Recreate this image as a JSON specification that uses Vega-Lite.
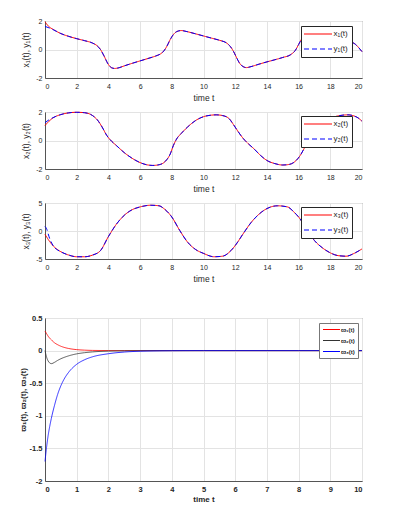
{
  "$schema": "https://vega.github.io/schema/vega-lite/v6.json",
  "padding": {"left": 18, "top": 16, "right": 0, "bottom": 0},
  "background": "white",
  "config": {
    "font": "Liberation Sans",
    "view": {"stroke": "#707070", "strokeWidth": 1},
    "axis": {"grid": true, "gridColor": "#e3e3e3", "ticks": false, "domainColor": "#555555", "labelColor": "#262626", "titleColor": "#262626", "labelFontSize": 7, "titleFontSize": 8.5, "titleFontWeight": "normal", "labelFont": "Liberation Sans", "titleFont": "Liberation Sans"}
  },
  "datasets": {
    "p1": [
      {"t":0,"x":1.95,"y":1.62},{"t":0.25,"x":1.6,"y":1.52},{"t":0.5,"x":1.42,"y":1.4},{"t":1,"x":1.12,"y":1.12},
      {"t":1.5,"x":0.92,"y":0.92},{"t":2,"x":0.76,"y":0.76},{"t":2.5,"x":0.62,"y":0.62},{"t":3,"x":0.45,"y":0.45},
      {"t":3.3,"x":0.25,"y":0.25},{"t":3.5,"x":0.0,"y":0.0},{"t":3.7,"x":-0.4,"y":-0.4},{"t":4,"x":-1.05,"y":-1.05},
      {"t":4.2,"x":-1.28,"y":-1.28},{"t":4.4,"x":-1.33,"y":-1.33},{"t":4.6,"x":-1.3,"y":-1.3},{"t":5,"x":-1.15,"y":-1.15},
      {"t":5.5,"x":-0.97,"y":-0.97},{"t":6,"x":-0.8,"y":-0.8},{"t":6.5,"x":-0.63,"y":-0.63},{"t":7,"x":-0.45,"y":-0.45},
      {"t":7.3,"x":-0.3,"y":-0.3},{"t":7.5,"x":-0.1,"y":-0.1},{"t":7.7,"x":0.25,"y":0.25},{"t":7.9,"x":0.7,"y":0.7},
      {"t":8.1,"x":1.05,"y":1.05},{"t":8.3,"x":1.25,"y":1.25},{"t":8.6,"x":1.33,"y":1.33},{"t":8.9,"x":1.27,"y":1.27},
      {"t":9.5,"x":1.1,"y":1.1},{"t":10,"x":0.95,"y":0.95},{"t":10.5,"x":0.8,"y":0.8},{"t":11,"x":0.65,"y":0.65},
      {"t":11.5,"x":0.42,"y":0.42},{"t":11.7,"x":0.2,"y":0.2},{"t":11.9,"x":-0.15,"y":-0.15},{"t":12.1,"x":-0.6,"y":-0.6},
      {"t":12.3,"x":-1.0,"y":-1.0},{"t":12.5,"x":-1.2,"y":-1.2},{"t":12.7,"x":-1.27,"y":-1.27},{"t":13,"x":-1.2,"y":-1.2},
      {"t":13.5,"x":-1.03,"y":-1.03},{"t":14,"x":-0.87,"y":-0.87},{"t":14.5,"x":-0.72,"y":-0.72},{"t":15,"x":-0.56,"y":-0.56},
      {"t":15.5,"x":-0.36,"y":-0.36},{"t":15.8,"x":-0.05,"y":-0.05},{"t":16,"x":0.35,"y":0.35},{"t":16.2,"x":0.75,"y":0.75},
      {"t":16.4,"x":1.05,"y":1.05},{"t":16.6,"x":1.25,"y":1.25},{"t":16.9,"x":1.33,"y":1.33},{"t":17.2,"x":1.27,"y":1.27},
      {"t":17.8,"x":1.1,"y":1.1},{"t":18.3,"x":0.95,"y":0.95},{"t":18.8,"x":0.8,"y":0.8},{"t":19.3,"x":0.55,"y":0.55},
      {"t":19.6,"x":0.35,"y":0.35},{"t":19.8,"x":0.12,"y":0.12},{"t":20,"x":-0.15,"y":-0.15}
    ],
    "p2": [
      {"t":0,"x":1.05,"y":1.25},{"t":0.25,"x":1.35,"y":1.45},{"t":0.5,"x":1.58,"y":1.6},{"t":1,"x":1.82,"y":1.82},
      {"t":1.5,"x":1.94,"y":1.94},{"t":2,"x":1.98,"y":1.98},{"t":2.5,"x":1.95,"y":1.95},{"t":3,"x":1.75,"y":1.75},
      {"t":3.3,"x":1.45,"y":1.45},{"t":3.6,"x":0.95,"y":0.95},{"t":3.9,"x":0.35,"y":0.35},{"t":4.2,"x":-0.05,"y":-0.05},
      {"t":4.5,"x":-0.35,"y":-0.35},{"t":5,"x":-0.85,"y":-0.85},{"t":5.5,"x":-1.25,"y":-1.25},{"t":6,"x":-1.55,"y":-1.55},
      {"t":6.5,"x":-1.72,"y":-1.72},{"t":6.8,"x":-1.75,"y":-1.75},{"t":7.2,"x":-1.7,"y":-1.7},{"t":7.6,"x":-1.45,"y":-1.45},
      {"t":7.9,"x":-0.95,"y":-0.95},{"t":8.1,"x":-0.35,"y":-0.35},{"t":8.3,"x":0.1,"y":0.1},{"t":8.6,"x":0.5,"y":0.5},
      {"t":9,"x":0.95,"y":0.95},{"t":9.5,"x":1.4,"y":1.4},{"t":10,"x":1.67,"y":1.67},{"t":10.5,"x":1.78,"y":1.78},
      {"t":10.8,"x":1.8,"y":1.8},{"t":11.2,"x":1.75,"y":1.75},{"t":11.6,"x":1.55,"y":1.55},{"t":11.9,"x":1.1,"y":1.1},
      {"t":12.2,"x":0.6,"y":0.6},{"t":12.5,"x":0.15,"y":0.15},{"t":12.8,"x":-0.2,"y":-0.2},{"t":13.2,"x":-0.6,"y":-0.6},
      {"t":13.6,"x":-1.05,"y":-1.05},{"t":14,"x":-1.4,"y":-1.4},{"t":14.5,"x":-1.62,"y":-1.62},{"t":15,"x":-1.72,"y":-1.72},
      {"t":15.4,"x":-1.68,"y":-1.68},{"t":15.8,"x":-1.45,"y":-1.45},{"t":16.1,"x":-1.05,"y":-1.05},{"t":16.4,"x":-0.45,"y":-0.45},
      {"t":16.6,"x":0.0,"y":0.0},{"t":16.9,"x":0.45,"y":0.45},{"t":17.3,"x":0.95,"y":0.95},{"t":17.8,"x":1.4,"y":1.4},
      {"t":18.3,"x":1.67,"y":1.67},{"t":18.8,"x":1.78,"y":1.78},{"t":19.1,"x":1.8,"y":1.8},{"t":19.5,"x":1.72,"y":1.72},
      {"t":19.8,"x":1.55,"y":1.55},{"t":20,"x":1.35,"y":1.35}
    ],
    "p3": [
      {"t":0,"x":-0.6,"y":0.8},{"t":0.1,"x":-1.05,"y":0.4},{"t":0.2,"x":-1.5,"y":-0.5},{"t":0.3,"x":-1.9,"y":-1.4},
      {"t":0.45,"x":-2.45,"y":-2.3},{"t":0.6,"x":-2.9,"y":-2.95},{"t":0.8,"x":-3.35,"y":-3.4},{"t":1,"x":-3.7,"y":-3.72},
      {"t":1.5,"x":-4.3,"y":-4.3},{"t":2,"x":-4.6,"y":-4.6},{"t":2.5,"x":-4.6,"y":-4.6},{"t":3,"x":-4.3,"y":-4.3},
      {"t":3.5,"x":-3.5,"y":-3.5},{"t":4,"x":-1.0,"y":-1.0},{"t":4.5,"x":1.2,"y":1.2},{"t":5,"x":2.8,"y":2.8},
      {"t":5.5,"x":3.8,"y":3.8},{"t":6,"x":4.3,"y":4.3},{"t":6.67,"x":4.6,"y":4.6},{"t":7.2,"x":4.5,"y":4.5},
      {"t":7.5,"x":4.0,"y":4.0},{"t":8,"x":2.5,"y":2.5},{"t":8.5,"x":0.1,"y":0.1},{"t":9,"x":-2.0,"y":-2.0},
      {"t":9.5,"x":-3.3,"y":-3.3},{"t":10,"x":-4.0,"y":-4.0},{"t":10.67,"x":-4.6,"y":-4.6},{"t":11.2,"x":-4.5,"y":-4.5},
      {"t":11.73,"x":-3.5,"y":-3.5},{"t":12,"x":-2.6,"y":-2.6},{"t":12.5,"x":-0.5,"y":-0.5},{"t":13,"x":1.5,"y":1.5},
      {"t":13.5,"x":3.0,"y":3.0},{"t":14,"x":4.0,"y":4.0},{"t":14.67,"x":4.5,"y":4.5},{"t":15.3,"x":4.3,"y":4.3},
      {"t":15.7,"x":3.4,"y":3.4},{"t":16,"x":2.5,"y":2.5},{"t":16.5,"x":0.4,"y":0.4},{"t":17,"x":-1.7,"y":-1.7},
      {"t":17.5,"x":-3.0,"y":-3.0},{"t":18,"x":-3.9,"y":-3.9},{"t":18.5,"x":-4.4,"y":-4.4},{"t":19,"x":-4.5,"y":-4.5},
      {"t":19.5,"x":-4.0,"y":-4.0},{"t":20,"x":-3.2,"y":-3.2}
    ],
    "p4": [
      {"t":0,"w1":0.3,"w2":0,"w3":-1.7},{"t":0.05,"w1":0.26,"w2":-0.1,"w3":-1.48},{"t":0.1,"w1":0.22,"w2":-0.16,"w3":-1.3},
      {"t":0.15,"w1":0.19,"w2":-0.19,"w3":-1.16},{"t":0.2,"w1":0.165,"w2":-0.2,"w3":-1.04},{"t":0.3,"w1":0.12,"w2":-0.18,"w3":-0.84},
      {"t":0.4,"w1":0.09,"w2":-0.15,"w3":-0.67},{"t":0.5,"w1":0.067,"w2":-0.125,"w3":-0.54},{"t":0.6,"w1":0.05,"w2":-0.105,"w3":-0.44},
      {"t":0.75,"w1":0.032,"w2":-0.08,"w3":-0.33},{"t":1,"w1":0.015,"w2":-0.05,"w3":-0.21},{"t":1.25,"w1":0.007,"w2":-0.032,"w3":-0.14},
      {"t":1.5,"w1":0.003,"w2":-0.02,"w3":-0.095},{"t":2,"w1":0.001,"w2":-0.008,"w3":-0.048},{"t":2.5,"w1":0,"w2":-0.003,"w3":-0.022},
      {"t":3,"w1":0,"w2":-0.001,"w3":-0.01},{"t":4,"w1":0,"w2":0,"w3":-0.002},{"t":5,"w1":0,"w2":0,"w3":0},
      {"t":6,"w1":0,"w2":0,"w3":0},{"t":7,"w1":0,"w2":0,"w3":0},{"t":8,"w1":0,"w2":0,"w3":0},
      {"t":9,"w1":0,"w2":0,"w3":0},{"t":10,"w1":0,"w2":0,"w3":0}
    ]
  },
  "spacing": 30,
  "resolve": {"scale": {"color": "independent", "strokeDash": "independent"}, "legend": {"color": "independent", "strokeDash": "independent"}},
  "vconcat": [
    {
      "spacing": 5,
      "resolve": {"scale": {"color": "independent", "strokeDash": "independent"}, "legend": {"color": "independent", "strokeDash": "independent"}},
      "vconcat": [
        {
          "width": 317, "height": 57,
          "data": {"name": "p1"},
          "transform": [{"fold": ["x", "y"], "as": ["s", "v"]}],
          "mark": {"type": "line", "strokeWidth": 1, "interpolate": "monotone"},
          "encoding": {
            "x": {"field": "t", "type": "quantitative", "scale": {"domain": [0, 20], "nice": false}, "axis": {"values": [0,2,4,6,8,10,12,14,16,18,20], "title": "time t", "labelPadding": 4, "titlePadding": 4}},
            "y": {"field": "v", "type": "quantitative", "scale": {"domain": [-2, 2], "nice": false}, "axis": {"values": [-2, 0, 2], "title": "x₁(t), y₁(t)", "titleX": -20, "titleBaseline": "middle", "labelPadding": 3, "labelExpr": "replace(format(datum.value, ''), '−', '-')"}},
            "color": {"field": "s", "type": "nominal", "scale": {"domain": ["x", "y"], "range": ["#ff0000", "#0000ff"]},
              "legend": {"orient": "none", "legendX": 256, "legendY": 5, "title": null, "strokeColor": "#262626", "fillColor": "white", "padding": 3.5, "symbolType": "M-4,0H4", "symbolSize": 49, "symbolStrokeWidth": 1.2, "symbolOffset": 9, "labelOffset": 11, "labelFontSize": 8, "labelFont": "Liberation Sans", "labelColor": "#262626", "rowPadding": 6, "labelExpr": "datum.value == 'x' ? 'x₁(t)' : 'y₁(t)'",
                "encode": {"symbols": {"update": {"stroke": {"signal": "datum.value == 'y' ? '#0000ff' : '#ff0000'"}, "strokeDash": {"signal": "datum.value == 'y' ? [5, 3] : [1, 0]"}}}}}},
            "strokeDash": {"field": "s", "type": "nominal", "scale": {"domain": ["x", "y"], "range": [[1, 0], [5, 3]]}, "legend": null}
          }
        },
        {
          "width": 317, "height": 57,
          "data": {"name": "p2"},
          "transform": [{"fold": ["x", "y"], "as": ["s", "v"]}],
          "mark": {"type": "line", "strokeWidth": 1, "interpolate": "monotone"},
          "encoding": {
            "x": {"field": "t", "type": "quantitative", "scale": {"domain": [0, 20], "nice": false}, "axis": {"values": [0,2,4,6,8,10,12,14,16,18,20], "title": "time t", "labelPadding": 4, "titlePadding": 4}},
            "y": {"field": "v", "type": "quantitative", "scale": {"domain": [-2, 2], "nice": false}, "axis": {"values": [-2, 0, 2], "title": "x₂(t), y₂(t)", "titleX": -20, "titleBaseline": "middle", "labelPadding": 3, "labelExpr": "replace(format(datum.value, ''), '−', '-')"}},
            "color": {"field": "s", "type": "nominal", "scale": {"domain": ["x", "y"], "range": ["#ff0000", "#0000ff"]},
              "legend": {"orient": "none", "legendX": 256, "legendY": 4, "title": null, "strokeColor": "#262626", "fillColor": "white", "padding": 3.5, "symbolType": "M-4,0H4", "symbolSize": 49, "symbolStrokeWidth": 1.2, "symbolOffset": 9, "labelOffset": 11, "labelFontSize": 8, "labelFont": "Liberation Sans", "labelColor": "#262626", "rowPadding": 6, "labelExpr": "datum.value == 'x' ? 'x₂(t)' : 'y₂(t)'",
                "encode": {"symbols": {"update": {"stroke": {"signal": "datum.value == 'y' ? '#0000ff' : '#ff0000'"}, "strokeDash": {"signal": "datum.value == 'y' ? [5, 3] : [1, 0]"}}}}}},
            "strokeDash": {"field": "s", "type": "nominal", "scale": {"domain": ["x", "y"], "range": [[1, 0], [5, 3]]}, "legend": null}
          }
        },
        {
          "width": 317, "height": 56,
          "data": {"name": "p3"},
          "transform": [{"fold": ["x", "y"], "as": ["s", "v"]}],
          "mark": {"type": "line", "strokeWidth": 1, "interpolate": "monotone"},
          "encoding": {
            "x": {"field": "t", "type": "quantitative", "scale": {"domain": [0, 20], "nice": false}, "axis": {"values": [0,2,4,6,8,10,12,14,16,18,20], "title": "time t", "labelPadding": 4, "titlePadding": 4}},
            "y": {"field": "v", "type": "quantitative", "scale": {"domain": [-5, 5], "nice": false}, "axis": {"values": [-5, 0, 5], "title": "x₃(t), y₃(t)", "titleX": -20, "titleBaseline": "middle", "labelPadding": 3, "labelExpr": "replace(format(datum.value, ''), '−', '-')"}},
            "color": {"field": "s", "type": "nominal", "scale": {"domain": ["x", "y"], "range": ["#ff0000", "#0000ff"]},
              "legend": {"orient": "none", "legendX": 256, "legendY": 4, "title": null, "strokeColor": "#262626", "fillColor": "white", "padding": 3.5, "symbolType": "M-4,0H4", "symbolSize": 49, "symbolStrokeWidth": 1.2, "symbolOffset": 9, "labelOffset": 11, "labelFontSize": 8, "labelFont": "Liberation Sans", "labelColor": "#262626", "rowPadding": 6, "labelExpr": "datum.value == 'x' ? 'x₃(t)' : 'y₃(t)'",
                "encode": {"symbols": {"update": {"stroke": {"signal": "datum.value == 'y' ? '#0000ff' : '#ff0000'"}, "strokeDash": {"signal": "datum.value == 'y' ? [5, 3] : [1, 0]"}}}}}},
            "strokeDash": {"field": "s", "type": "nominal", "scale": {"domain": ["x", "y"], "range": [[1, 0], [5, 3]]}, "legend": null}
          }
        }
      ]
    },
    {
      "width": 317, "height": 163,
      "data": {"name": "p4"},
      "transform": [{"fold": ["w1", "w2", "w3"], "as": ["s", "v"]}],
      "mark": {"type": "line", "strokeWidth": 0.8, "interpolate": "monotone"},
      "encoding": {
        "x": {"field": "t", "type": "quantitative", "scale": {"domain": [0, 10], "nice": false}, "axis": {"values": [0,1,2,3,4,5,6,7,8,9,10], "title": "time t", "labelPadding": 4, "titlePadding": 3, "labelFontWeight": "bold", "titleFontWeight": "bold", "labelFontSize": 7.5, "titleFontSize": 8}},
        "y": {"field": "v", "type": "quantitative", "scale": {"domain": [-2, 0.5], "nice": false}, "axis": {"values": [-2, -1.5, -1, -0.5, 0, 0.5], "title": "ϖ₁(t), ϖ₂(t), ϖ₃(t)", "titleX": -22, "titleBaseline": "middle", "labelPadding": 3, "labelFontWeight": "bold", "titleFontWeight": "bold", "labelFontSize": 7.5, "titleFontSize": 8, "labelExpr": "replace(format(datum.value, ''), '−', '-')"}},
        "color": {"field": "s", "type": "nominal", "scale": {"domain": ["w1", "w2", "w3"], "range": ["#ff0000", "#333333", "#0000ff"]},
          "legend": {"orient": "none", "legendX": 274, "legendY": 5, "title": null, "strokeColor": "#777777", "fillColor": "white", "padding": 3, "symbolType": "M-3,0H3", "symbolSize": 32, "symbolStrokeWidth": 1, "symbolOffset": 6, "labelOffset": 6, "labelFontSize": 6, "labelFontWeight": "bold", "labelFont": "Liberation Sans", "labelColor": "#262626", "rowPadding": 4, "labelExpr": "datum.value == 'w1' ? 'ϖ₁(t)' : datum.value == 'w2' ? 'ϖ₂(t)' : 'ϖ₃(t)'",
            "encode": {"symbols": {"update": {"stroke": {"signal": "datum.value == 'w1' ? '#ff0000' : datum.value == 'w2' ? '#333333' : '#0000ff'"}, "strokeDash": {"signal": "[1, 0]"}}}}}},
        "strokeDash": {"field": "s", "type": "nominal", "scale": {"domain": ["w1", "w2", "w3"], "range": [[1, 0], [1, 0], [1, 0]]}, "legend": null}
      }
    }
  ]
}
